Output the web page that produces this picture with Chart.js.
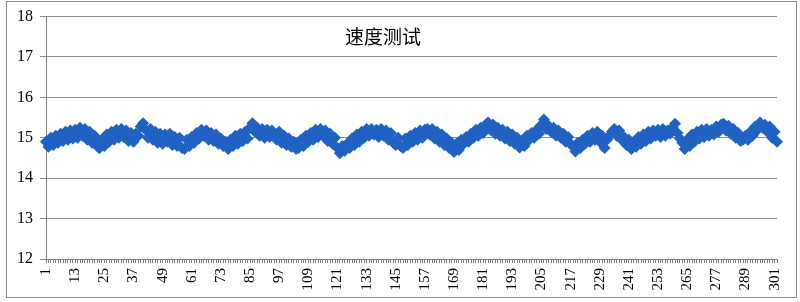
<!DOCTYPE html>
<html><head><meta charset="utf-8">
<script src="https://cdn.jsdelivr.net/npm/chart.js@4.4.1/dist/chart.umd.min.js"></script>
<style>html,body{margin:0;padding:0;background:#fff;}</style>
</head><body>
<canvas id="c" width="800" height="302"></canvas>
<script>
const chartTitle = '速度测试';
const speedValues = [
14.90,14.78,15.00,14.82,15.05,14.88,15.10,14.92,15.15,14.95,15.18,14.98,
15.20,15.00,15.25,15.05,15.22,14.95,15.15,14.88,15.05,14.80,14.74,14.95,
14.80,15.08,14.90,15.15,14.95,15.20,15.00,15.22,15.02,15.18,14.92,15.12,
14.90,15.10,15.05,15.28,15.36,15.20,15.00,15.22,14.95,15.15,14.88,15.10,
14.85,15.08,14.90,15.10,14.82,15.02,14.80,15.00,14.75,14.72,14.95,14.80,
15.02,14.88,15.12,14.98,15.20,15.05,15.18,14.95,15.12,14.92,15.08,14.85,
14.98,14.80,14.90,14.72,14.95,14.80,15.05,14.85,15.10,14.92,15.15,14.98,
15.25,15.36,15.15,15.25,15.05,15.22,15.00,15.20,15.02,15.18,15.10,14.95,
15.15,14.88,15.05,14.82,14.98,14.78,14.90,14.72,14.75,14.95,14.80,15.05,
14.90,15.12,14.95,15.20,15.02,15.22,15.05,15.18,14.92,15.10,14.85,15.00,
14.75,14.62,14.80,14.68,14.85,14.75,14.98,14.82,15.08,14.90,15.15,15.00,
15.22,15.05,15.22,15.08,15.20,15.02,15.22,15.05,15.18,14.95,15.12,14.88,
14.82,15.00,14.80,14.75,14.98,14.82,15.05,14.90,15.12,14.95,15.18,15.00,
15.20,15.22,15.08,15.22,14.98,15.15,14.90,15.08,14.82,14.98,14.75,14.88,
14.65,14.85,14.70,14.95,14.85,15.02,14.90,15.10,15.00,15.20,15.05,15.25,
15.12,15.32,15.38,15.20,15.33,15.10,15.25,15.05,15.20,14.98,15.15,14.92,
15.08,14.85,15.00,14.76,14.92,14.80,15.05,14.95,15.12,15.00,15.20,15.10,
15.32,15.45,15.22,15.30,15.15,15.25,15.05,15.18,15.00,15.10,14.90,15.02,
14.85,14.78,14.66,14.88,14.75,14.95,14.85,15.05,14.90,15.12,14.95,15.15,
14.90,15.05,14.75,14.95,15.05,15.15,15.22,15.05,15.18,14.95,15.02,14.82,
14.95,14.72,14.90,14.78,15.02,14.85,15.08,14.92,15.15,14.98,15.18,15.05,
15.20,15.02,15.22,15.05,15.18,15.10,15.25,15.35,15.12,14.98,14.88,14.72,
14.95,14.80,15.08,14.90,15.15,14.98,15.20,15.02,15.22,15.05,15.20,15.08,
15.28,15.15,15.32,15.35,15.18,15.30,15.10,15.22,15.00,15.12,14.92,14.95,
15.05,14.95,15.15,15.05,15.28,15.20,15.38,15.25,15.32,15.15,15.28,15.00,
15.15,14.90
];
const categories = [];
for (let i = 1; i <= speedValues.length; i++) categories.push(String(i));
const yMin = 12, yMax = 18, yStep = 1;
const xLabelEvery = 12;

const frame = {
  id: 'frame',
  beforeDraw(chart) {
    const ctx = chart.ctx;
    ctx.save();
    ctx.fillStyle = '#fff';
    ctx.fillRect(0, 0, chart.width, chart.height);
    ctx.strokeStyle = '#8c8c8c';
    ctx.lineWidth = 1;
    ctx.strokeRect(6.5, 1.5, 790, 296);
    ctx.restore();
  },
  afterDraw(chart) {
    const ctx = chart.ctx;
    ctx.save();
    ctx.fillStyle = '#000';
    ctx.font = '19px "Noto Sans CJK SC"';
    ctx.textAlign = 'center';
    ctx.textBaseline = 'middle';
    ctx.fillText(chartTitle, 383, 37);
    ctx.restore();
  }
};

new Chart(document.getElementById('c'), {
  type: 'line',
  data: {
    labels: categories,
    datasets: [{
      data: speedValues,
      borderColor: '#1f62c4',
      backgroundColor: '#1f62c4',
      borderWidth: 2,
      pointStyle: 'rectRot',
      pointRadius: 6,
      pointBorderWidth: 0,
      pointBackgroundColor: '#1f62c4',
      tension: 0
    }]
  },
  options: {
    responsive: false,
    animation: false,
    devicePixelRatio: 1,
    layout: { padding: { top: 15, right: 20, bottom: 0, left: 0 } },
    plugins: { legend: { display: false }, tooltip: { enabled: false }, title: { display: false } },
    scales: {
      x: {
        type: 'category',
        offset: false,
        afterFit(s) { s.height = 43; },
        grid: { drawOnChartArea: false, drawTicks: true, tickLength: 4, color: '#808080', offset: false },
        border: { display: true, color: '#808080', width: 1 },
        ticks: {
          autoSkip: false, minRotation: 90, maxRotation: 90, padding: 5,
          color: '#000', font: { family: '"Liberation Serif"', size: 15 },
          callback(v, i) { return i % xLabelEvery === 0 ? categories[i] : ''; }
        }
      },
      y: {
        min: yMin, max: yMax,
        afterFit(s) { s.width = 46; },
        grid: { color: '#8c8c8c', lineWidth: 1, tickLength: 6, drawTicks: true },
        border: { display: true, color: '#808080', width: 1 },
        ticks: { stepSize: yStep, padding: 7, color: '#000', font: { family: '"Liberation Serif"', size: 16 } }
      }
    }
  },
  plugins: [frame]
});
</script>
</body></html>
